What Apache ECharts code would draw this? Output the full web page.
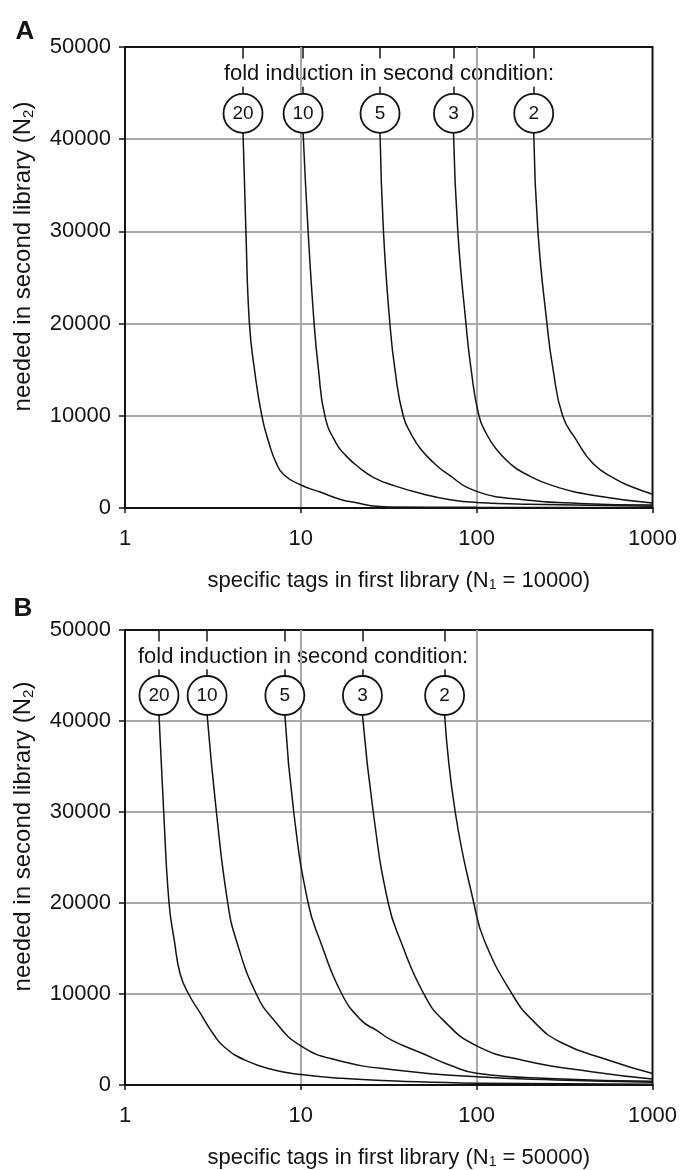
<!DOCTYPE html>
<html>
<head>
<meta charset="utf-8">
<script src="https://cdn.jsdelivr.net/npm/echarts@6/dist/echarts.min.js"></script>
<style>
html, body { margin: 0; padding: 0; background: #fff; }
#main { width: 680px; height: 1170px; }
</style>
</head>
<body>
<div id="main"></div>
<script>
var FONT = '"Liberation Sans", Arial, Helvetica, sans-serif';
var INK = '#141414';

/* fold induction levels, one curve each */
var foldLabels = ['20', '10', '5', '3', '2'];

/* A ---- N1 = 10000 : [specific tags in first library, tags needed in second library] */
var a20 = [[4.69, 40700], [4.87, 30000], [5.1, 20000], [5.45, 15000], [6.0, 10000], [6.6, 7000], [7.2, 5000], [8.0, 3600], [10, 2500], [13, 1700], [17, 900], [21, 550], [25, 250], [32, 120], [100, 70], [1000, 40]];
var a10 = [[10.3, 40700], [11.0, 30000], [11.9, 20000], [12.6, 15000], [13.7, 10000], [15.8, 7100], [18.2, 5600], [21.1, 4500], [26, 3300], [34.2, 2400], [50, 1500], [70.7, 900], [100, 600], [200, 400], [1000, 200]];
var a5 = [[28.2, 40700], [29.5, 30000], [32.1, 20000], [34.3, 15000], [38.2, 10000], [43, 7800], [48, 6400], [57, 4900], [67, 3800], [100, 1800], [185, 900], [383, 500], [1000, 330]];
var a3 = [[73.8, 40700], [78.1, 30000], [86.9, 20000], [93, 15000], [103, 10000], [114, 8000], [129, 6400], [155, 4800], [185, 3800], [273, 2400], [487, 1300], [1000, 550]];
var a2 = [[211, 40700], [223, 30000], [251, 20000], [272, 15000], [308, 10000], [365, 7500], [460, 4800], [620, 3100], [760, 2300], [1000, 1500]];

/* B ---- N1 = 50000 */
var b20 = [[1.56, 40700], [1.66, 30000], [1.78, 20000], [1.91, 15800], [2.06, 12200], [2.3, 10000], [2.7, 7800], [3.18, 5600], [3.66, 4200], [4.85, 2700], [7.05, 1650], [10, 1150], [17, 730], [34.5, 450], [100, 200], [1000, 80]];
var b10 = [[2.93, 40700], [3.31, 30000], [3.84, 20000], [4.31, 15800], [5.58, 10000], [7.05, 7100], [10, 4300], [16.3, 2700], [34.5, 1650], [100, 900], [282, 550], [1000, 300]];
var b5 = [[8.11, 40700], [9.11, 30000], [11.0, 20000], [12.9, 15800], [17.1, 10000], [22.1, 7100], [27, 6000], [33, 4900], [50, 3400], [70, 2200], [100, 1300], [282, 700], [1000, 400]];
var b3 = [[22.4, 40700], [25.8, 30000], [31.4, 20000], [37, 15800], [50.1, 10000], [64.7, 7100], [100, 4300], [185, 2700], [450, 1450], [1000, 650]];
var b2 = [[65.7, 40700], [75.5, 30000], [96.3, 20000], [111, 15800], [159, 10000], [208, 7100], [300, 4700], [569, 2700], [1000, 1260]];

var panelA = [a20, a10, a5, a3, a2];
var panelB = [b20, b10, b5, b3, b2];

/* label marker heights (in y units) */
var circleY = 42800;
var leaderTop = [50000, 48750];
var leaderLow = [45700, 44900];

function createCurves(curves, idx) {
	var result = [];
	for (var i = 0; i < curves.length; i++) {
		var x0 = curves[i][0][0];
		result.push({
			type: 'line',
			xAxisIndex: idx,
			yAxisIndex: idx,
			data: curves[i],
			showSymbol: false,
			smooth: 0.5,
			z: 3,
			lineStyle: { color: INK, width: 1.5 },
			markLine: {
				silent: true,
				symbol: ['none', 'none'],
				label: { show: false },
				lineStyle: { color: INK, width: 1.5, type: 'solid' },
				data: [
					[{ coord: [x0, leaderTop[0]] }, { coord: [x0, leaderTop[1]] }],
					[{ coord: [x0, leaderLow[0]] }, { coord: [x0, leaderLow[1]] }]
				]
			},
			markPoint: {
				silent: true,
				symbol: 'circle',
				symbolSize: 39,
				itemStyle: { color: '#fff', borderColor: INK, borderWidth: 1.8 },
				label: {
					show: true,
					position: 'inside',
					formatter: foldLabels[i],
					color: INK,
					fontSize: 19,
					fontFamily: FONT
				},
				data: [{ coord: [x0, circleY] }]
			}
		});
	}
	return result;
}

function xAxisOf(idx, n1) {
	return {
		type: 'log',
		logBase: 10,
		gridIndex: idx,
		min: 1,
		max: 1000,
		axisLine: { show: true, lineStyle: { color: INK, width: 2 } },
		axisTick: { show: true, length: 5, lineStyle: { color: INK, width: 1.5 } },
		axisLabel: {
			fontSize: 22, color: INK, fontFamily: FONT, margin: 20,
			formatter: function(v) { return String(Math.round(v)); }
		},
		splitLine: { show: true, showMinLine: false, showMaxLine: false, lineStyle: { color: '#a9a9a9', width: 2 } },
		name: 'specific tags in first library (N{sub|1} = ' + n1 + ')',
		nameLocation: 'middle',
		nameGap: 61,
		nameTextStyle: {
			fontSize: 22, color: INK, fontFamily: FONT, padding: [0, 0, 0, 20],
			rich: { sub: { fontSize: 14, fontFamily: FONT, color: INK, padding: [9, 0, 0, 0] } }
		}
	};
}

function yAxisOf(idx) {
	return {
		type: 'value',
		gridIndex: idx,
		min: 0,
		max: 50000,
		interval: 10000,
		axisLine: { show: true, lineStyle: { color: INK, width: 2 } },
		axisTick: { show: true, length: 6, lineStyle: { color: INK, width: 1.5 } },
		axisLabel: {
			fontSize: 22, color: INK, fontFamily: FONT, margin: 14,
			formatter: function(v) { return String(v); }
		},
		splitLine: { show: true, showMinLine: false, showMaxLine: false, lineStyle: { color: '#a9a9a9', width: 2 } },
		name: 'needed in second library (N{sub|2})',
		nameLocation: 'middle',
		nameGap: 89,
		nameTextStyle: {
			fontSize: 24, color: INK, fontFamily: FONT, padding: [0, 0, 0, 42],
			rich: { sub: { fontSize: 15, fontFamily: FONT, color: INK, padding: [10, 0, 0, 0] } }
		}
	};
}

var option = {
	backgroundColor: '#fff',
	animation: false,
	grid: [
		{ left: 125, top: 47, width: 529, height: 461, show: true, borderColor: INK, borderWidth: 2, backgroundColor: 'transparent' },
		{ left: 125, top: 630, width: 529, height: 462, show: true, borderColor: INK, borderWidth: 2, backgroundColor: 'transparent' }
	],
	xAxis: [xAxisOf(0, 10000), xAxisOf(1, 50000)],
	yAxis: [yAxisOf(0), yAxisOf(1)],
	series: createCurves(panelA, 0).concat(createCurves(panelB, 1)),
	graphic: [
		{ type: 'text', x: 25, y: 32, style: { text: 'A', font: 'bold 26px ' + FONT, fill: INK, align: 'center', verticalAlign: 'middle' } },
		{ type: 'text', x: 23, y: 609, style: { text: 'B', font: 'bold 26px ' + FONT, fill: INK, align: 'center', verticalAlign: 'middle' } },
		{ type: 'text', x: 389, y: 74, style: { text: 'fold induction in second condition:', font: '22px ' + FONT, fill: INK, align: 'center', verticalAlign: 'middle' } },
		{ type: 'text', x: 138, y: 657, style: { text: 'fold induction in second condition:', font: '22px ' + FONT, fill: INK, align: 'left', verticalAlign: 'middle' } }
	]
};

var chart = echarts.init(document.getElementById('main'));
chart.setOption(option);
</script>
</body>
</html>
